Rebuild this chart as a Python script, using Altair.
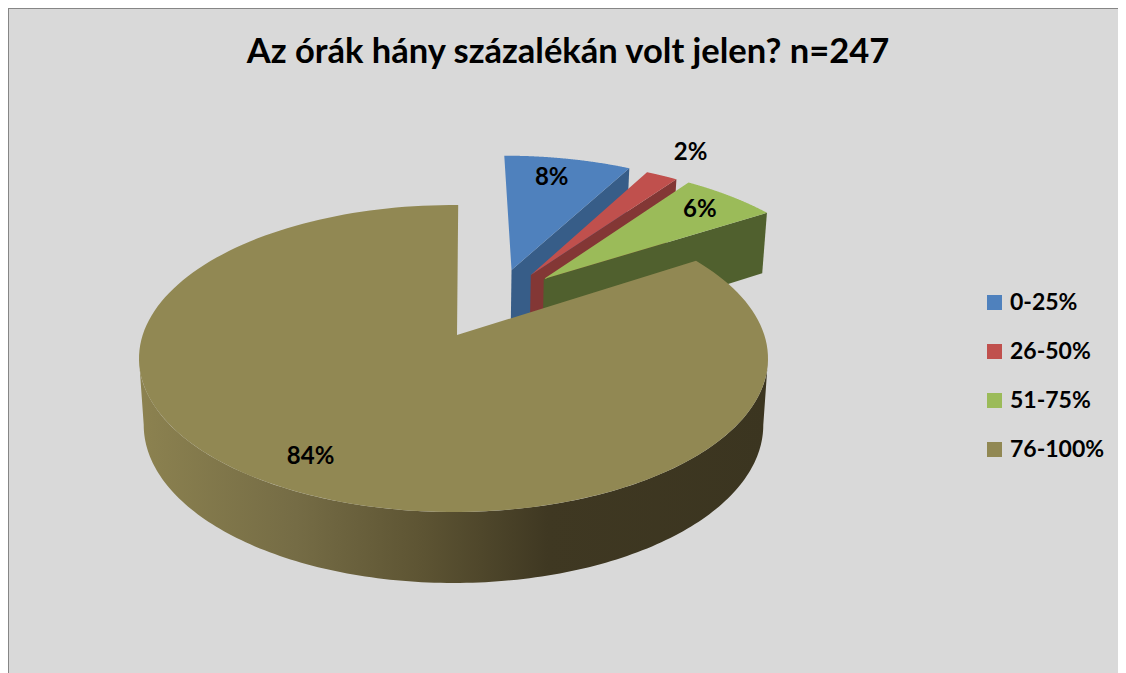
import math
import altair as alt

# ---- values ----
categories = ["0-25%", "26-50%", "51-75%", "76-100%"]
values = [8, 2, 6, 84]
title_text = "Az órák hány százalékán volt jelen? n=247"

top_colors = ["#4f81bd", "#c0504d", "#9bbb59", "#918853"]
wall_colors = ["#375d88", "#833735", "#50602e", None]
# where each slice's point sits on the pie plane after being pulled out
explode_u = [0.2, 0.265, 0.308, 0.0]
explode_v = [0.4645, 0.4264, 0.396, 0.0]
label_radius = [0.78, 1.27, 0.83, 0.82]
label_nudge_x = [-5, -2, -1, -5]
label_nudge_y = [-3, 1, 1, 1]

# ---- perspective of the tilted pie (page pixels, chart origin at 8,8) ----
W, H = 1110, 665
CX, CY = 453.5 - 8, 335 - 8
AX, AY = 310.8, 149.9
K = 0.1531
SHRINK = 0.985


def project(u, v):
    d = 1 + K * v
    return CX + AX * u / d, CY - AY * v / d


def project_low(u, v):
    x, y = project(u, v)
    return CX + (x - CX) * SHRINK, y + 65.5 - 5.5 * v


def rim(i, a0, a1, low=False, n=160):
    pts = []
    for j in range(n + 1):
        a = math.radians(a0 + (a1 - a0) * j / n)
        u, v = explode_u[i] + math.sin(a), explode_v[i] + math.cos(a)
        pts.append(project_low(u, v) if low else project(u, v))
    return pts


def feature(points, cat):
    ring = [list(p) for p in points] + [list(points[0])]
    return {"type": "Feature", "properties": {"cat": cat},
            "geometry": {"type": "Polygon", "coordinates": [ring]}}


total = sum(values)
starts = [360 * sum(values[:i]) / total for i in range(len(values))]
ends = [360 * sum(values[:i + 1]) / total for i in range(len(values))]

color_scale = alt.Scale(domain=categories, range=top_colors)
legend = alt.Legend(
    title=None, orient="none", legendX=975, legendY=283,
    symbolType="square", symbolSize=225, symbolStrokeWidth=0, symbolOpacity=1,
    labelFont="Lato", labelFontSize=23, labelFontWeight="bold", labelColor="#000000",
    rowPadding=25, labelOffset=4, padding=0,
)


def top_layer(i, pts):
    return (
        alt.Chart(alt.Data(values=[feature(pts, categories[i])]))
        .mark_geoshape(strokeWidth=0)
        .encode(color=alt.Color("properties.cat:N", scale=color_scale, legend=legend))
        .project(type="identity", scale=1, translate=[0, 0])
    )


def wall_layer(feat_pts, fill):
    return (
        alt.Chart(alt.Data(values=[feature(feat_pts, "wall")]))
        .mark_geoshape(strokeWidth=0, fill=fill)
        .project(type="identity", scale=1, translate=[0, 0])
    )


layers = []

# the three pulled-out slices, back to front
for i in range(3):
    apex = project(explode_u[i], explode_v[i])
    apex_low = project_low(explode_u[i], explode_v[i])
    arc = rim(i, starts[i], ends[i])
    arc_low_end = rim(i, ends[i], ends[i], low=True, n=1)[0]
    layers.append(wall_layer([apex, arc[-1], arc_low_end, apex_low], wall_colors[i]))
    layers.append(top_layer(i, [apex] + arc))

# the large slice: outer wall with its shading, then the top
i = 3
m_top = rim(i, starts[i], ends[i] + 1)
# the wall runs between the two points where the rim turns back in x
turn = math.degrees(math.acos(-K))
w_top = rim(i, turn, 360 - turn)
w_low = rim(i, turn, 360 - turn, low=True)
wall_gradient = alt.Gradient(
    gradient="linear", x1=0, x2=1, y1=0, y2=0,
    stops=[
        alt.GradientStop(offset=0.0, color="#8c8250"),
        alt.GradientStop(offset=0.25, color="#756c45"),
        alt.GradientStop(offset=0.45, color="#5d5433"),
        alt.GradientStop(offset=0.65, color="#3f3822"),
        alt.GradientStop(offset=1.0, color="#3b3520"),
    ],
)
layers.append(wall_layer(w_top + w_low[::-1], wall_gradient))
apex_main = (457 - 8, 335 - 8)
layers.append(top_layer(i, [apex_main] + m_top))

# percentage labels
label_rows = []
for i, v in enumerate(values):
    a = math.radians((starts[i] + ends[i]) / 2)
    x, y = project(explode_u[i] + label_radius[i] * math.sin(a),
                   explode_v[i] + label_radius[i] * math.cos(a))
    label_rows.append({"px": x + label_nudge_x[i], "py": y + label_nudge_y[i], "txt": f"{v}%"})

labels = (
    alt.Chart(alt.Data(values=label_rows))
    .mark_text(font="Lato", fontSize=24, fontWeight="bold", color="#000000",
               align="center", baseline="middle")
    .encode(x=alt.X("px:Q", scale=None), y=alt.Y("py:Q", scale=None), text="txt:N")
)

# chart frame
frame_left = alt.Chart(alt.Data(values=[{"a": 0}])).mark_rule(color="#868686", strokeWidth=2).encode(
    x=alt.value(0), y=alt.value(0), y2=alt.value(H))
frame_top = alt.Chart(alt.Data(values=[{"a": 0}])).mark_rule(color="#868686", strokeWidth=2).encode(
    y=alt.value(0), x=alt.value(0), x2=alt.value(W))

chart = (
    alt.layer(*layers, labels, frame_left, frame_top)
    .properties(
        width=W, height=H, padding=0, background="#d9d9d9",
        autosize=alt.AutoSizeParams(type="none"),
        title=alt.TitleParams(
            title_text, font="Lato", fontSize=34.5, fontWeight="bold", color="#000000",
            anchor="middle", frame="group", dx=5, dy=63, offset=0,
        ),
    )
    .configure_view(stroke=None)
)

chart.save("out.html", embed_options={"renderer": "svg", "actions": False})
